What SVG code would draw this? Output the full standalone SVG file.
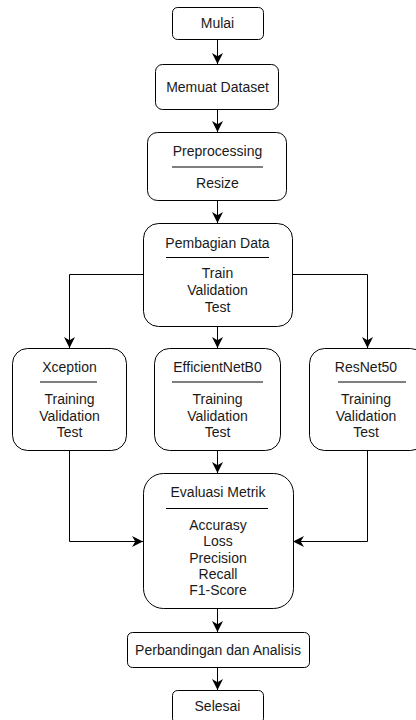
<svg xmlns="http://www.w3.org/2000/svg" width="416" height="720" viewBox="0 0 416 720">
<defs>
<style>
.box{fill:#fff;stroke:#000;stroke-width:1}
.t{font-family:"Liberation Sans",Arial,sans-serif;font-size:14px;fill:#1a1a1a;text-anchor:middle}
.sep{stroke:#555;stroke-width:1.5}
.sepb{stroke:#000;stroke-width:1}
.c{fill:none;stroke:#000;stroke-width:1;marker-end:url(#arr)}
</style>
<marker id="arr" markerUnits="userSpaceOnUse" viewBox="0 0 10 10" refX="10" refY="5" markerWidth="11" markerHeight="11" orient="auto">
<path d="M0,0 L10,5 L0,10 L3,5 z" fill="#000"/>
</marker>
</defs>
<rect width="416" height="720" fill="#fff"/>
<g id="connectors">
<path class="c" d="M217.5,39 V64"/>
<path class="c" d="M217.5,109 V132"/>
<path class="c" d="M217.5,200 V223"/>
<path class="c" d="M217.5,326 V348"/>
<path class="c" d="M143,274.5 H69.5 V348"/>
<path class="c" d="M292,274.5 H367.5 V348"/>
<path class="c" d="M217.5,450 V473"/>
<path class="c" d="M69.5,450 V541.5 H143"/>
<path class="c" d="M367.5,450 V541.5 H293"/>
<path class="c" d="M217.5,608 V632"/>
<path class="c" d="M217.5,667 V690"/>
</g>
<g id="mulai">
<rect class="box" x="172.5" y="7.5" width="91" height="32" rx="5"/>
<text class="t" x="217.5" y="28">Mulai</text>
</g>
<g id="memuat">
<rect class="box" x="155.5" y="64.5" width="123" height="45" rx="7"/>
<text class="t" x="217.5" y="91.5">Memuat Dataset</text>
</g>
<g id="preprocessing">
<rect class="box" x="147.5" y="132.5" width="139" height="68" rx="10"/>
<text class="t" x="217.5" y="156">Preprocessing</text>
<line class="sep" x1="172" y1="167" x2="263" y2="167"/>
<text class="t" x="217.5" y="188">Resize</text>
</g>
<g id="pembagian">
<rect class="box" x="143.5" y="223.5" width="149" height="103" rx="15"/>
<text class="t" x="217.5" y="248">Pembagian Data</text>
<line class="sepb" x1="166" y1="257.5" x2="269" y2="257.5"/>
<text class="t" x="217.5" y="278">Train</text>
<text class="t" x="217.5" y="295">Validation</text>
<text class="t" x="217.5" y="311.5">Test</text>
</g>
<g id="xception">
<rect class="box" x="12.5" y="348.5" width="114" height="102" rx="15"/>
<text class="t" x="69.5" y="372">Xception</text>
<line class="sep" x1="40" y1="382" x2="97" y2="382"/>
<text class="t" x="69.5" y="404">Training</text>
<text class="t" x="69.5" y="420.5">Validation</text>
<text class="t" x="69.5" y="437">Test</text>
</g>
<g id="efficientnet">
<rect class="box" x="154.5" y="348.5" width="126" height="102" rx="15"/>
<text class="t" x="217.5" y="372">EfficientNetB0</text>
<line class="sep" x1="172" y1="382" x2="263" y2="382"/>
<text class="t" x="217.5" y="404">Training</text>
<text class="t" x="217.5" y="420.5">Validation</text>
<text class="t" x="217.5" y="437">Test</text>
</g>
<g id="resnet">
<rect class="box" x="309.5" y="348.5" width="116" height="102" rx="15"/>
<text class="t" x="366" y="372">ResNet50</text>
<line class="sep" x1="338" y1="382" x2="406" y2="382"/>
<text class="t" x="366" y="404">Training</text>
<text class="t" x="366" y="420.5">Validation</text>
<text class="t" x="366" y="437">Test</text>
</g>
<g id="evaluasi">
<rect class="box" x="143.5" y="473.5" width="150" height="135" rx="20"/>
<text class="t" x="218" y="497">Evaluasi Metrik</text>
<line class="sepb" x1="166" y1="508.5" x2="268" y2="508.5"/>
<text class="t" x="218" y="530">Accurasy</text>
<text class="t" x="218" y="546">Loss</text>
<text class="t" x="218" y="562.5">Precision</text>
<text class="t" x="218" y="579">Recall</text>
<text class="t" x="218" y="594.5">F1-Score</text>
</g>
<g id="perbandingan">
<rect class="box" x="127.5" y="632.5" width="182" height="35" rx="5"/>
<text class="t" x="218" y="655">Perbandingan dan Analisis</text>
</g>
<g id="selesai">
<rect class="box" x="172.5" y="690.5" width="91" height="33" rx="5"/>
<text class="t" x="217.5" y="711">Selesai</text>
</g>
</svg>
